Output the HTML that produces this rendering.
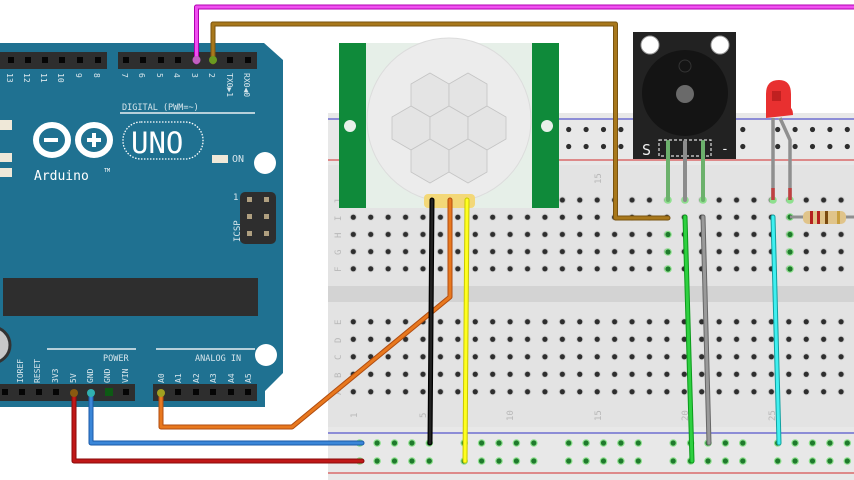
<!DOCTYPE html>
<html><head><meta charset="utf-8"><style>
html,body{margin:0;padding:0;background:#fff;width:854px;height:480px;overflow:hidden}
svg{display:block}
text{font-family:"DejaVu Sans Mono","Liberation Mono",monospace}
</style></head><body>
<svg width="854" height="480" viewBox="0 0 854 480" xmlns="http://www.w3.org/2000/svg">
<defs>
<pattern id="hT" x="344.6" y="191.4" width="17.42" height="17.2" patternUnits="userSpaceOnUse">
<circle cx="8.71" cy="8.6" r="3.6" fill="#d2d2d2"/><circle cx="8.71" cy="8.6" r="2.6" fill="#2e2e2e"/></pattern>
<pattern id="hB" x="344.6" y="313" width="17.42" height="17.5" patternUnits="userSpaceOnUse">
<circle cx="8.71" cy="8.75" r="3.6" fill="#d2d2d2"/><circle cx="8.71" cy="8.75" r="2.6" fill="#2e2e2e"/></pattern>
<pattern id="rT" x="351" y="121" width="104.5" height="17" patternUnits="userSpaceOnUse">
<g fill="#2e2e2e"><circle cx="8.7" cy="8.5" r="2.6"/><circle cx="26.1" cy="8.5" r="2.6"/><circle cx="43.5" cy="8.5" r="2.6"/><circle cx="60.9" cy="8.5" r="2.6"/><circle cx="78.3" cy="8.5" r="2.6"/></g></pattern>
<pattern id="rB" x="351" y="434" width="104.5" height="18" patternUnits="userSpaceOnUse">
<g fill="#8ee08e"><circle cx="8.7" cy="9" r="3.8"/><circle cx="26.1" cy="9" r="3.8"/><circle cx="43.5" cy="9" r="3.8"/><circle cx="60.9" cy="9" r="3.8"/><circle cx="78.3" cy="9" r="3.8"/></g>
<g fill="#1f7a2c"><circle cx="8.7" cy="9" r="2.6"/><circle cx="26.1" cy="9" r="2.6"/><circle cx="43.5" cy="9" r="2.6"/><circle cx="60.9" cy="9" r="2.6"/><circle cx="78.3" cy="9" r="2.6"/></g></pattern>
</defs>

<!-- Breadboard -->
<rect x="328" y="113" width="530" height="370" fill="#e8e8e8"/>
<rect x="328" y="165" width="530" height="262" fill="#e3e3e3"/>
<rect x="328" y="286" width="530" height="16" fill="#d3d3d3"/>
<line x1="328" y1="119" x2="854" y2="119" stroke="#5555cc" stroke-width="1.2"/>
<line x1="328" y1="160" x2="854" y2="160" stroke="#d65050" stroke-width="1.2"/>
<line x1="328" y1="433" x2="854" y2="433" stroke="#5555cc" stroke-width="1.2"/>
<line x1="328" y1="473" x2="854" y2="473" stroke="#d65050" stroke-width="1.2"/>
<rect x="344" y="121" width="510" height="34" fill="url(#rT)"/>
<rect x="344" y="434" width="510" height="36" fill="url(#rB)"/>
<rect x="344.6" y="191.4" width="510" height="86" fill="url(#hT)"/>
<rect x="344.6" y="313" width="510" height="87.5" fill="url(#hB)"/>
<g font-size="9" fill="#b8b8b8" font-family="Liberation Sans,sans-serif">
<text transform="translate(341,204) rotate(-90)">J</text><text transform="translate(341,221) rotate(-90)">I</text>
<text transform="translate(341,238) rotate(-90)">H</text><text transform="translate(341,255) rotate(-90)">G</text>
<text transform="translate(341,272) rotate(-90)">F</text><text transform="translate(341,325) rotate(-90)">E</text>
<text transform="translate(341,343) rotate(-90)">D</text><text transform="translate(341,360) rotate(-90)">C</text>
<text transform="translate(341,378) rotate(-90)">B</text><text transform="translate(341,395) rotate(-90)">A</text>
<text transform="translate(357,418) rotate(-90)">1</text><text transform="translate(426,418) rotate(-90)">5</text>
<text transform="translate(513,421) rotate(-90)">10</text><text transform="translate(601,421) rotate(-90)">15</text>
<text transform="translate(688,421) rotate(-90)">20</text><text transform="translate(775,421) rotate(-90)">25</text>
<text transform="translate(601,184) rotate(-90)">15</text>
</g>
<!-- green highlighted holes -->
<g fill="#8ee08e"><circle cx="668" cy="200" r="3.8"/><circle cx="668" cy="234.5" r="3.8"/><circle cx="668" cy="252" r="3.8"/><circle cx="668" cy="269" r="3.8"/>
<circle cx="790" cy="217" r="3.8"/><circle cx="790" cy="234.5" r="3.8"/><circle cx="790" cy="252" r="3.8"/><circle cx="790" cy="269" r="3.8"/>
<circle cx="685" cy="200" r="3.8"/><circle cx="703" cy="200" r="3.8"/><circle cx="773" cy="200" r="3.8"/><circle cx="790" cy="200" r="3.8"/></g>
<g fill="#1f7a2c"><circle cx="668" cy="234.5" r="2.6"/><circle cx="668" cy="252" r="2.6"/><circle cx="668" cy="269" r="2.6"/>
<circle cx="790" cy="217" r="2.6"/><circle cx="790" cy="234.5" r="2.6"/><circle cx="790" cy="252" r="2.6"/><circle cx="790" cy="269" r="2.6"/></g>

<!-- Arduino -->
<path d="M0,43 L264,43 L283,60 L283,148 L283,373 L265,391 L265,407 L0,407 Z" fill="#1f7191"/>
<rect x="0" y="52" width="107" height="17" fill="#2e2e2e"/>
<rect x="118" y="52" width="139" height="17" fill="#2e2e2e"/>
<g fill="#050505">
<rect x="8" y="57" width="6" height="6"/><rect x="25" y="57" width="6" height="6"/><rect x="42" y="57" width="6" height="6"/><rect x="59" y="57" width="6" height="6"/><rect x="77" y="57" width="6" height="6"/><rect x="95" y="57" width="6" height="6"/>
<rect x="123" y="57" width="6" height="6"/><rect x="140" y="57" width="6" height="6"/><rect x="158" y="57" width="6" height="6"/><rect x="175" y="57" width="6" height="6"/><rect x="227" y="57" width="6" height="6"/><rect x="245" y="57" width="6" height="6"/></g>
<g font-size="8" fill="#d8e6ec">
<text transform="translate(7,73) rotate(90)">13</text><text transform="translate(24,73) rotate(90)">12</text><text transform="translate(41,73) rotate(90)">11</text><text transform="translate(58,73) rotate(90)">10</text><text transform="translate(76,73) rotate(90)">9</text><text transform="translate(94,73) rotate(90)">8</text>
<text transform="translate(122,73) rotate(90)">7</text><text transform="translate(139,73) rotate(90)">6</text><text transform="translate(157,73) rotate(90)">5</text><text transform="translate(174,73) rotate(90)">4</text><text transform="translate(192,73) rotate(90)">3</text><text transform="translate(209,73) rotate(90)">2</text>
<text transform="translate(227,73) rotate(90)">TX0▶1</text><text transform="translate(244,73) rotate(90)">RX0◀0</text>
<text x="122" y="110" font-size="8.5">DIGITAL (PWM=~)</text>
<text x="232" y="162" font-size="10">ON</text>
<text x="34" y="180" font-size="13" fill="#fff">Arduino</text><text x="104" y="172" font-size="5" fill="#fff">TM</text>
<text transform="translate(240,242) rotate(-90)" font-size="9">ICSP</text><text x="233" y="200" font-size="9">1</text>
<text transform="translate(23,383) rotate(-90)">IOREF</text><text transform="translate(40,383) rotate(-90)">RESET</text>
<text transform="translate(58,383) rotate(-90)">3V3</text><text transform="translate(76,383) rotate(-90)">5V</text>
<text transform="translate(93,383) rotate(-90)">GND</text><text transform="translate(110,383) rotate(-90)">GND</text><text transform="translate(128,383) rotate(-90)">VIN</text>
<text transform="translate(164,383) rotate(-90)">A0</text><text transform="translate(181,383) rotate(-90)">A1</text><text transform="translate(199,383) rotate(-90)">A2</text><text transform="translate(216,383) rotate(-90)">A3</text><text transform="translate(234,383) rotate(-90)">A4</text><text transform="translate(251,383) rotate(-90)">A5</text>
<text x="103" y="361" font-size="8.5">POWER</text><text x="195" y="361" font-size="8.5">ANALOG IN</text>
</g>
<line x1="120" y1="113" x2="255" y2="113" stroke="#e8f0f3" stroke-width="1.5"/>
<line x1="47" y1="349" x2="136" y2="349" stroke="#e8f0f3" stroke-width="1.5"/>
<line x1="156" y1="349" x2="255" y2="349" stroke="#e8f0f3" stroke-width="1.5"/>
<!-- logo -->
<g fill="none" stroke="#fff" stroke-width="6"><ellipse cx="52" cy="140" rx="16" ry="15"/><ellipse cx="94" cy="140" rx="16" ry="15"/></g>
<rect x="44" y="138" width="14" height="4" fill="#fff"/><rect x="87" y="138" width="14" height="4" fill="#fff"/><rect x="92" y="133" width="4" height="14" fill="#fff"/>
<rect x="123" y="122" width="80" height="37" rx="18" fill="none" stroke="#fff" stroke-width="1.3" stroke-dasharray="1.5 1.5"/>
<text x="131" y="153" font-family="Liberation Sans,sans-serif" font-size="29" fill="#fff">UNO</text>
<g fill="#efe8d8"><rect x="0" y="120" width="12" height="10"/><rect x="0" y="153" width="12" height="9"/><rect x="0" y="168" width="12" height="9"/><rect x="212" y="155" width="16" height="8"/></g>
<circle cx="265" cy="163" r="11" fill="#fff"/><circle cx="266" cy="355" r="11" fill="#fff"/>
<rect x="240" y="192" width="36" height="52" rx="5" fill="#2e2e2e"/>
<g fill="#b0a080"><rect x="247" y="197" width="5" height="5"/><rect x="264" y="197" width="5" height="5"/><rect x="247" y="214" width="5" height="5"/><rect x="264" y="214" width="5" height="5"/><rect x="247" y="231" width="5" height="5"/><rect x="264" y="231" width="5" height="5"/></g>
<rect x="3" y="278" width="255" height="38" fill="#2e2e2e"/>
<circle cx="-8" cy="345" r="18" fill="#c8c8c8" stroke="#333" stroke-width="3"/>
<rect x="0" y="384" width="135" height="17" fill="#2e2e2e"/>
<rect x="153" y="384" width="104" height="17" fill="#2e2e2e"/>
<g fill="#050505"><rect x="2" y="389" width="6" height="6"/><rect x="19" y="389" width="6" height="6"/><rect x="36" y="389" width="6" height="6"/><rect x="53" y="389" width="6" height="6"/><rect x="123" y="389" width="6" height="6"/>
<rect x="175" y="389" width="6" height="6"/><rect x="193" y="389" width="6" height="6"/><rect x="210" y="389" width="6" height="6"/><rect x="228" y="389" width="6" height="6"/><rect x="245" y="389" width="6" height="6"/></g>
<rect x="105" y="388" width="8" height="8" fill="#0d5a14"/>

<!-- PIR -->
<rect x="339" y="43" width="220" height="165" fill="#0f8a3a"/>
<rect x="366" y="43" width="166" height="165" fill="#e6efe8"/>
<circle cx="449" cy="120" r="82" fill="#ececec" stroke="#dcdcdc"/>
<g fill="#e4e4e4" stroke="#c4c4c4" stroke-width="0.8">
<polygon points="430,73 449,84 449,106 430,117 411,106 411,84"/>
<polygon points="468,73 487,84 487,106 468,117 449,106 449,84"/>
<polygon points="411,106 430,117 430,139 411,150 392,139 392,117"/>
<polygon points="449,106 468,117 468,139 449,150 430,139 430,117"/>
<polygon points="487,106 506,117 506,139 487,150 468,139 468,117"/>
<polygon points="430,139 449,150 449,172 430,183 411,172 411,150"/>
<polygon points="468,139 487,150 487,172 468,183 449,172 449,150"/></g>
<circle cx="350" cy="126" r="6" fill="#e8f0ea"/><circle cx="547" cy="126" r="6" fill="#e8f0ea"/>
<rect x="424" y="194" width="51" height="14" rx="4" fill="#f3d878"/>

<!-- Buzzer -->
<rect x="633" y="32" width="103" height="127" fill="#222"/>
<circle cx="650" cy="45" r="9" fill="#fff" stroke="#999"/><circle cx="720" cy="45" r="9" fill="#fff" stroke="#999"/>
<circle cx="685" cy="93" r="43" fill="#141414"/>
<circle cx="685" cy="94" r="9" fill="#6a6a6a"/>
<circle cx="685" cy="66" r="6" fill="none" stroke="#333"/>
<text x="642" y="155" font-family="Liberation Sans,sans-serif" font-size="15" fill="#eee">S</text>
<text x="721" y="153" font-family="Liberation Sans,sans-serif" font-size="13" fill="#eee">-</text>
<rect x="659" y="140" width="52" height="16" fill="none" stroke="#ddd" stroke-width="1.2" stroke-dasharray="3 2"/>
<g stroke-width="4" stroke-linecap="round"><line x1="668" y1="142" x2="668" y2="200" stroke="#6cb16c"/><line x1="685" y1="142" x2="685" y2="200" stroke="#8c8c8c"/><line x1="703" y1="142" x2="703" y2="200" stroke="#6cb16c"/></g>

<!-- LED -->
<g stroke="#8f8f8f" stroke-width="3.5" fill="none"><line x1="773" y1="118" x2="773" y2="200"/><polyline points="780,118 790,140 790,200"/></g>
<line x1="773" y1="188" x2="773" y2="200" stroke="#c04040" stroke-width="3.5"/><line x1="790" y1="188" x2="790" y2="200" stroke="#c04040" stroke-width="3.5"/>
<path d="M766,94 Q766,80 779,80 Q791,80 791,94 L791,108 Q793,110 793,115 L766,118 Z" fill="#e83030"/>
<rect x="772" y="91" width="9" height="10" fill="#c02020"/>
<!-- resistor -->
<line x1="790" y1="217" x2="854" y2="217" stroke="#8f8f8f" stroke-width="3"/>
<rect x="803" y="211" width="43" height="13" rx="5" fill="#e0c48a"/>
<rect x="810" y="211" width="3" height="13" fill="#b52020"/><rect x="817" y="211" width="3" height="13" fill="#b52020"/><rect x="825" y="211" width="3" height="13" fill="#7a4a10"/><rect x="837" y="211" width="3" height="13" fill="#c8a040"/>

<!-- wires -->
<g fill="none" stroke-linecap="round" stroke-linejoin="round">
<polyline points="196.5,62 196.5,7 860,7" stroke="#b000b0" stroke-width="5"/>
<polyline points="196.5,62 196.5,7 860,7" stroke="#f050f0" stroke-width="3"/>
<polyline points="213,62 213,24 615.5,24 615.5,218 668,218" stroke="#7a5410" stroke-width="5"/>
<polyline points="213,62 213,24 615.5,24 615.5,218 668,218" stroke="#a8781c" stroke-width="3"/>
<polyline points="74,393 74,461 362,461" stroke="#8a0a0a" stroke-width="5"/>
<polyline points="74,393 74,461 362,461" stroke="#c01818" stroke-width="3"/>
<polyline points="91,393 91,443 362,443" stroke="#1a5aa8" stroke-width="5"/>
<polyline points="91,393 91,443 362,443" stroke="#3a86d8" stroke-width="3"/>
<polyline points="161,393 161,427 292,427 450,297 450,200" stroke="#b04c10" stroke-width="5"/>
<polyline points="161,393 161,427 292,427 450,297 450,200" stroke="#e8781e" stroke-width="3"/>
<line x1="432" y1="200" x2="430" y2="443" stroke="#000" stroke-width="5"/>
<line x1="432" y1="200" x2="430" y2="443" stroke="#222" stroke-width="2.5"/>
<line x1="467" y1="200" x2="465" y2="461" stroke="#c8c800" stroke-width="5"/>
<line x1="467" y1="200" x2="465" y2="461" stroke="#ffff20" stroke-width="3"/>
<line x1="685" y1="217" x2="692" y2="461" stroke="#0a9a1a" stroke-width="5"/>
<line x1="685" y1="217" x2="692" y2="461" stroke="#2ed040" stroke-width="3"/>
<line x1="703" y1="217" x2="709" y2="443" stroke="#666" stroke-width="5"/>
<line x1="703" y1="217" x2="709" y2="443" stroke="#9a9a9a" stroke-width="3"/>
<line x1="773" y1="217" x2="779" y2="443" stroke="#10a0a0" stroke-width="5"/>
<line x1="773" y1="217" x2="779" y2="443" stroke="#40f0f0" stroke-width="3"/>
</g>
<g fill="#9ad050"><circle cx="196.5" cy="60" r="4" fill="#c060c0"/><circle cx="213" cy="60" r="4" fill="#6a9a20"/><circle cx="74" cy="393" r="4" fill="#8a5a10"/><circle cx="91" cy="393" r="4" fill="#30b0b0"/><circle cx="161" cy="393" r="4" fill="#a0a020"/></g>
</svg>
</body></html>
